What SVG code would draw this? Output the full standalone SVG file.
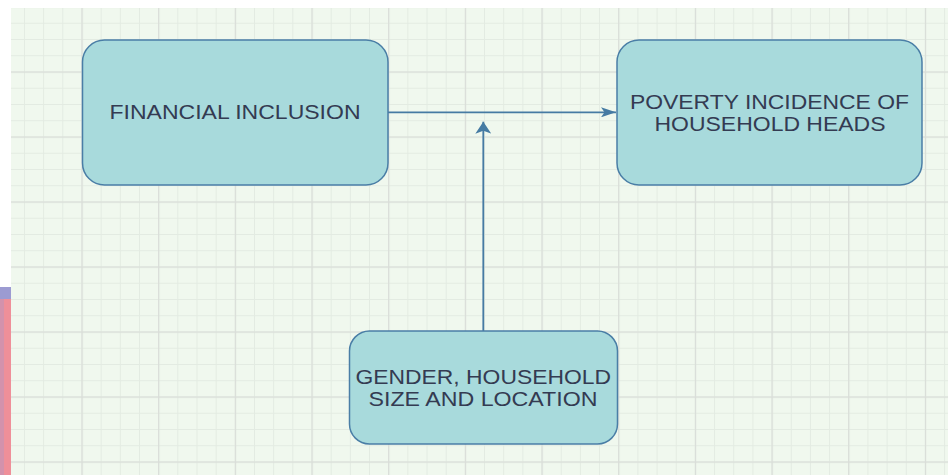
<svg xmlns="http://www.w3.org/2000/svg" width="948" height="475" viewBox="0 0 948 475">
  <style>
    .node { fill: #a8dadc; stroke: #4a7ea6; stroke-width: 1.5; }
    .label { font-family: "Liberation Sans", Arial, sans-serif; font-size: 19.5px; fill: #343b52; text-anchor: start; }
    .edge { fill: none; stroke: #467ba3; stroke-width: 1.8; }
    .head { fill: #467ba3; }
  </style>
  <defs>
    <pattern id="minor" patternUnits="userSpaceOnUse" x="4.8" y="6.5" width="19.17" height="16.25">
      <rect x="0" y="0" width="1" height="16.25" fill="#e3ebe2"/>
      <rect x="0" y="0" width="19.17" height="1" fill="#e3ebe2"/>
    </pattern>
    <pattern id="major" patternUnits="userSpaceOnUse" x="4.8" y="6.5" width="76.67" height="65">
      <rect x="0" y="0" width="1.2" height="65" fill="#d9ddd8"/>
      <rect x="0" y="0" width="76.67" height="1.2" fill="#d9ddd8"/>
    </pattern>
    <marker id="arrowH" viewBox="0 0 15 10" refX="15" refY="5" markerWidth="15" markerHeight="10" markerUnits="userSpaceOnUse" orient="auto">
      <path class="head" d="M0,0 L15,5 L0,10 L3.5,5 Z"/>
    </marker>
    <marker id="arrowV" viewBox="0 0 12 16" refX="12" refY="8" markerWidth="12" markerHeight="16" markerUnits="userSpaceOnUse" orient="auto">
      <path class="head" d="M0,0 L12,8 L0,16 L3,8 Z"/>
    </marker>
  </defs>

  <g id="background">
    <rect x="0" y="0" width="948" height="475" fill="#ffffff"/>
    <rect x="11" y="8" width="937" height="467" fill="#f0f8ee"/>
    <rect x="11" y="8" width="937" height="467" fill="url(#minor)"/>
    <rect x="11" y="8" width="937" height="467" fill="url(#major)"/>
    <rect x="0" y="287" width="11" height="188" fill="#ef8f99"/>
    <rect x="0" y="287" width="11" height="12" fill="#9c9bd2"/>
    <rect x="0" y="299" width="4" height="176" fill="#c893b4" opacity="0.7"/>
  </g>

  <g id="connectors">
    <path class="edge" d="M388,112.3 H616" marker-end="url(#arrowH)"/>
    <path class="edge" d="M483.3,331 V121.7" marker-end="url(#arrowV)"/>
  </g>

  <g id="node-financial-inclusion">
    <rect class="node" x="82.5" y="40" width="305.5" height="145" rx="22" ry="22"/>
    <text class="label" x="109.5" y="119" textLength="251" lengthAdjust="spacingAndGlyphs">FINANCIAL INCLUSION</text>
  </g>

  <g id="node-poverty-incidence">
    <rect class="node" x="617" y="40" width="305" height="145" rx="22" ry="22"/>
    <text class="label" x="630" y="109" textLength="279" lengthAdjust="spacingAndGlyphs">POVERTY INCIDENCE OF</text>
    <text class="label" x="654.5" y="131" textLength="231" lengthAdjust="spacingAndGlyphs">HOUSEHOLD HEADS</text>
  </g>

  <g id="node-gender-household">
    <rect class="node" x="349.5" y="331" width="268" height="113" rx="20" ry="20"/>
    <text class="label" x="355.5" y="384" textLength="255.5" lengthAdjust="spacingAndGlyphs">GENDER, HOUSEHOLD</text>
    <text class="label" x="368.5" y="406" textLength="229" lengthAdjust="spacingAndGlyphs">SIZE AND LOCATION</text>
  </g>
</svg>
